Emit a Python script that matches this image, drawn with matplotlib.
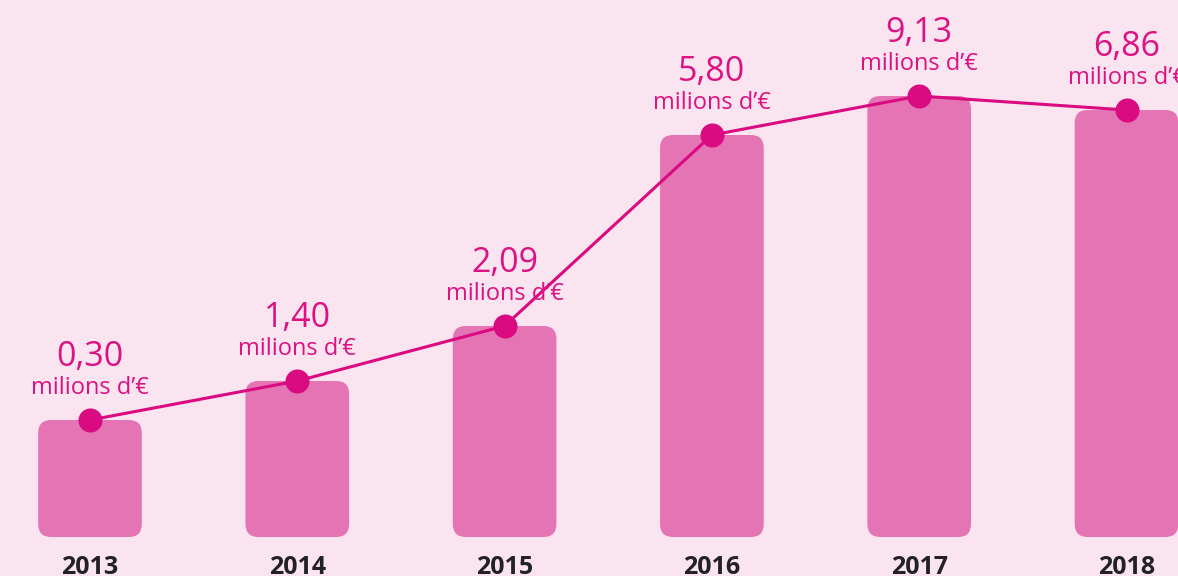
import matplotlib
matplotlib.use("Agg")
import matplotlib.pyplot as plt
from matplotlib.patches import FancyBboxPatch

years = ["2013", "2014", "2015", "2016", "2017", "2018"]
values = [0.30, 1.40, 2.09, 5.80, 9.13, 6.86]
value_labels = ["0,30", "1,40", "2,09", "5,80", "9,13", "6,86"]
unit_label = "milions d\u2019\u20ac"
# visual bar heights as drawn in the infographic (not proportional to values)
bar_heights = [117, 156, 211, 402, 441, 427]

BG = "#F9E4F0"
BAR = "#E574B4"
LINE = "#DA0A80"
TEXT = "#DC1282"
YEAR = "#222222"

W, H = 1178, 576
fig = plt.figure(figsize=(W / 100, H / 100), dpi=100, facecolor=BG)
ax = fig.add_axes([0, 0, 1, 1])
ax.set_facecolor(BG)
px_per_x = 207.3
x0 = 90.0
ax.set_xlim(-x0 / px_per_x, (W - x0) / px_per_x)
ax.set_ylim(-39, 537)
ax.axis("off")

xs = list(range(len(years)))
bars = ax.bar(xs, bar_heights, width=0.50, color=BAR, alpha=0)
r_px = 13.0
for b in bars:
    p = FancyBboxPatch((b.get_x(), b.get_y()), b.get_width(), b.get_height(),
                       boxstyle=f"round,pad=0,rounding_size={r_px / px_per_x}",
                       mutation_aspect=px_per_x, facecolor=BAR, edgecolor="none", zorder=1)
    ax.add_patch(p)

ax.plot(xs, bar_heights, color=LINE, lw=2.2, zorder=3)
ax.scatter(xs, bar_heights, s=300, color=LINE, zorder=4, linewidths=0)

for x, h, vl, yr in zip(xs, bar_heights, value_labels, years):
    ax.text(x, h + 63, vl, ha="center", va="center", fontsize=24.5, color=TEXT,
            family="Open Sans")
    ax.text(x, h + 32, unit_label, ha="center", va="center", fontsize=17, color=TEXT,
            family="Open Sans")
    ax.text(x, -31, yr, ha="center", va="center", fontsize=18, color=YEAR,
            fontweight="bold", family="Open Sans")

fig.savefig("out.png", dpi=100, facecolor=BG)
